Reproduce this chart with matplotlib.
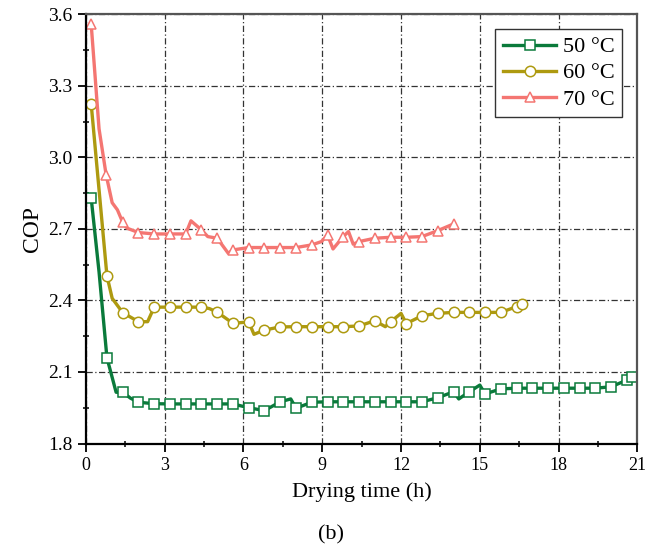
import numpy as np
import matplotlib
matplotlib.use("Agg")
import matplotlib.pyplot as plt
from matplotlib.ticker import MultipleLocator

plt.rcParams["font.family"] = ["Liberation Serif", "DejaVu Serif"]
plt.rcParams["mathtext.fontset"] = "stix"

# 50 °C
t50 = [0.2, 0.5, 0.8, 1.15, 1.4, 1.7, 2.0, 2.6, 3.2, 3.8, 4.4, 5.0, 5.6, 6.2, 6.8,
       7.4, 7.8, 8.0, 8.6, 9.2, 9.8, 10.4, 11.0, 11.6, 12.2, 12.8, 13.4, 14.0,
       14.2, 14.6, 15.0, 15.2, 15.8, 16.4, 17.0, 17.6, 18.2, 18.8, 19.4, 20.0,
       20.6, 20.8]
c50 = [2.83, 2.52, 2.16, 2.015, 2.015, 1.99, 1.973, 1.967, 1.966, 1.966, 1.966,
       1.966, 1.966, 1.950, 1.938, 1.975, 1.987, 1.948, 1.973, 1.975, 1.975,
       1.975, 1.975, 1.975, 1.975, 1.975, 1.992, 2.017, 1.987, 2.017, 2.045,
       2.008, 2.029, 2.032, 2.032, 2.032, 2.032, 2.032, 2.032, 2.038, 2.066,
       2.080]
m50 = [0, 2, 4] + list(range(6, 16)) + list(range(17, 28)) + [29] + list(range(31, 42))

# 60 °C
t60 = [0.2, 0.8, 1.0, 1.4, 2.0, 2.35, 2.6, 3.2, 3.8, 4.4, 4.7, 5.0, 5.6, 6.2, 6.4,
       6.8, 7.4, 8.0, 8.6, 9.2, 9.8, 10.4, 11.0, 11.4, 11.6, 12.0, 12.2, 12.8,
       13.4, 14.0, 14.6, 15.2, 15.8, 16.4, 16.6]
c60 = [3.225, 2.504, 2.409, 2.349, 2.311, 2.311, 2.372, 2.372, 2.372, 2.372,
       2.366, 2.351, 2.304, 2.310, 2.258, 2.276, 2.289, 2.290, 2.290, 2.290,
       2.290, 2.293, 2.315, 2.290, 2.310, 2.346, 2.303, 2.336, 2.346, 2.350,
       2.350, 2.350, 2.350, 2.374, 2.385]
m60 = [0, 1, 3, 4, 6, 7, 8, 9, 11, 12, 13] + list(range(15, 23)) + [24, 26, 27, 28,
                                                                     29, 30, 31, 32, 33, 34]

# 70 °C
t70 = [0.2, 0.5, 0.77, 1.0, 1.2, 1.4, 1.57, 2.0, 2.6, 3.2, 3.8, 4.0, 4.4, 4.64, 5.0,
       5.42, 5.6, 6.2, 6.8, 7.4, 8.0, 8.6, 8.97, 9.2, 9.41, 9.8, 10.0, 10.18,
       10.4, 11.0, 11.6, 12.2, 12.8, 13.4, 14.0]
c70 = [3.560, 3.12, 2.927, 2.81, 2.78, 2.728, 2.703, 2.685, 2.679, 2.679, 2.679,
       2.734, 2.696, 2.668, 2.661, 2.598, 2.612, 2.622, 2.622, 2.622, 2.622,
       2.633, 2.647, 2.675, 2.616, 2.668, 2.689, 2.636, 2.647, 2.661, 2.665,
       2.665, 2.668, 2.693, 2.721]
m70 = [0, 2, 5, 7, 8, 9, 10, 12, 14, 16, 17, 18, 19, 20, 21, 23, 25] + list(range(28, 35))

series = [
    (t50, c50, m50, "50 °C", "#0a7a3b", "s"),
    (t60, c60, m60, "60 °C", "#ae9a10", "o"),
    (t70, c70, m70, "70 °C", "#f47672", "^"),
]

fig = plt.figure(figsize=(6.66, 5.53), dpi=100)
ax = fig.add_axes([0.129, 0.198, 0.828, 0.776])

for t, c, m, lab, col, mk in series:
    ax.plot(t, c, color=col, lw=2.4, marker=mk, markevery=m, ms=7.5,
            mfc="white", mec=col, mew=1.1, label=lab)

ax.set_xlim(0, 21)
ax.set_ylim(1.8, 3.6)
ax.xaxis.set_major_locator(MultipleLocator(3))
ax.xaxis.set_minor_locator(MultipleLocator(1.5))
ax.yaxis.set_major_locator(MultipleLocator(0.3))
ax.yaxis.set_minor_locator(MultipleLocator(0.15))
ax.yaxis.set_major_formatter(matplotlib.ticker.FormatStrFormatter("%.1f"))

ax.grid(True, which="major", color="#333333", lw=0.9, ls=(0, (5, 2, 1, 2)))
ax.tick_params(which="major", direction="out", length=6, width=1.3, labelsize=14)
ax.tick_params(which="minor", direction="inout", length=5, width=1.1)
ax.tick_params(axis="x", labelsize=13)
for s in ["left", "bottom"]:
    ax.spines[s].set_linewidth(1.6)
    ax.spines[s].set_color("black")
for s in ["top", "right"]:
    ax.spines[s].set_linewidth(1.6)
    ax.spines[s].set_color("#555555")

ax.set_xlabel("Drying time (h)", fontsize=16, labelpad=6)
ax.set_ylabel("COP", fontsize=17, labelpad=4)

leg = ax.legend(loc="upper right", bbox_to_anchor=(0.973, 0.966), fontsize=16,
                fancybox=False, edgecolor="#333333", framealpha=1,
                handlelength=2.4, handletextpad=0.3, borderpad=0.35,
                labelspacing=0.25, borderaxespad=0)
leg.get_frame().set_linewidth(1.0)

fig.text(0.497, 0.033, "(b)", fontsize=16, ha="center", va="center")

fig.savefig("out.png", dpi=100)
